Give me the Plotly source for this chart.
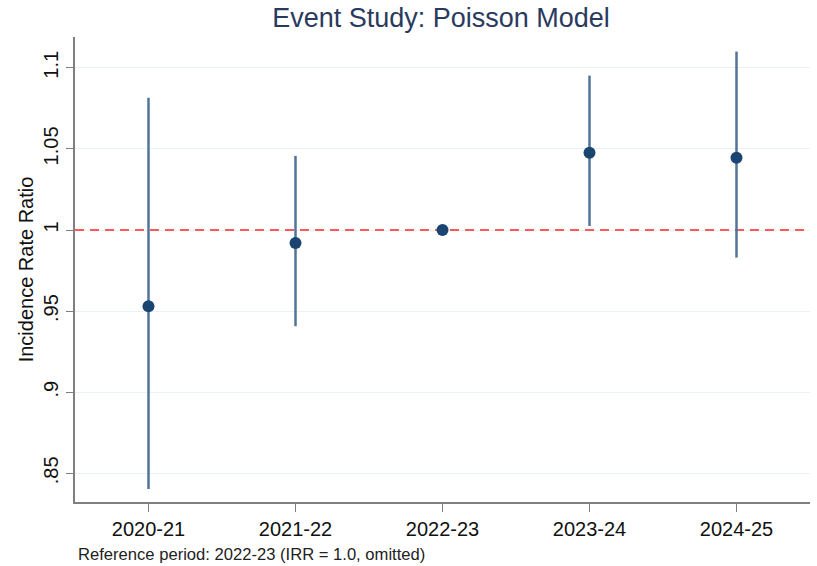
import plotly.graph_objects as go

periods = ["2020-21", "2021-22", "2022-23", "2023-24", "2024-25"]
irr = [0.953, 0.992, 1.0, 1.0477, 1.0446]
ci_low = [0.8403, 0.9407, 1.0, 1.0025, 0.983]
ci_high = [1.0815, 1.0457, 1.0, 1.0952, 1.110]
ytick_vals = [0.85, 0.9, 0.95, 1.0, 1.05, 1.1]
ytick_text = [".85", ".9", ".95", "1", "1.05", "1.1"]
ref_value = 1.0
x_range = [-0.5, 4.5]

err_plus = [h - p for h, p in zip(ci_high, irr)]
err_minus = [p - l for p, l in zip(irr, ci_low)]

FONT = "Liberation Sans, Arial, Helvetica, sans-serif"

W, H = 817, 566
ML, MR, MT, MB = 75, 7, 37, 64
PW, PH = W - ML - MR, H - MT - MB

fig = go.Figure()
fig.add_trace(go.Scatter(
    x=x_range, y=[ref_value, ref_value], mode="lines",
    line=dict(color="#ff5a5a", width=2, dash="9px,6px"),
    showlegend=False, hoverinfo="skip",
))
fig.add_trace(go.Scatter(
    x=list(range(len(periods))), y=irr, mode="markers",
    marker=dict(color="#1b4571", size=12),
    error_y=dict(type="data", symmetric=False, array=err_plus, arrayminus=err_minus,
                 color="#52749a", thickness=2.5, width=0),
    showlegend=False,
))

fig.update_layout(
    width=W, height=H,
    margin=dict(l=ML, r=MR, t=MT, b=MB, autoexpand=False),
    paper_bgcolor="white", plot_bgcolor="white",
    font=dict(family=FONT, color="#111111"),
    title=dict(text="Event Study: Poisson Model", x=441 / W, xanchor="center",
               y=1 - 18 / H, yanchor="middle", yref="container",
               font=dict(size=27, color="#2a3a5e", family=FONT)),
    xaxis=dict(range=x_range, tickmode="array", tickvals=list(range(len(periods))),
               ticktext=periods, showgrid=False, zeroline=False, automargin=False,
               showline=True, linecolor="#7f7f7f", linewidth=1.5,
               ticks="outside", ticklen=8, tickcolor="#7f7f7f",
               tickfont=dict(size=20, color="#111111")),
    yaxis=dict(range=[0.8323, 1.119], tickmode="array", tickvals=ytick_vals,
               ticktext=ytick_text, tickangle=-90, automargin=False,
               showgrid=True, gridcolor="#eaf1f3", gridwidth=1, zeroline=False,
               showline=True, linecolor="#7f7f7f", linewidth=1.5,
               ticks="outside", ticklen=7, tickcolor="#7f7f7f",
               tickfont=dict(size=20, color="#111111"),
               title=dict(text="Incidence Rate Ratio", standoff=1,
                          font=dict(size=20, color="#111111"))),
)

fig.add_annotation(text="Reference period: 2022-23 (IRR = 1.0, omitted)",
                   xref="paper", yref="paper", x=(76 - 75) / PW, y=-(554 - 502) / PH,
                   xanchor="left", yanchor="middle", showarrow=False,
                   font=dict(size=16.6, color="#222222", family=FONT))

fig.write_html("out.html", config={"displayModeBar": False},
               post_script="document.body.style.margin='0';document.body.style.overflow='hidden';")
